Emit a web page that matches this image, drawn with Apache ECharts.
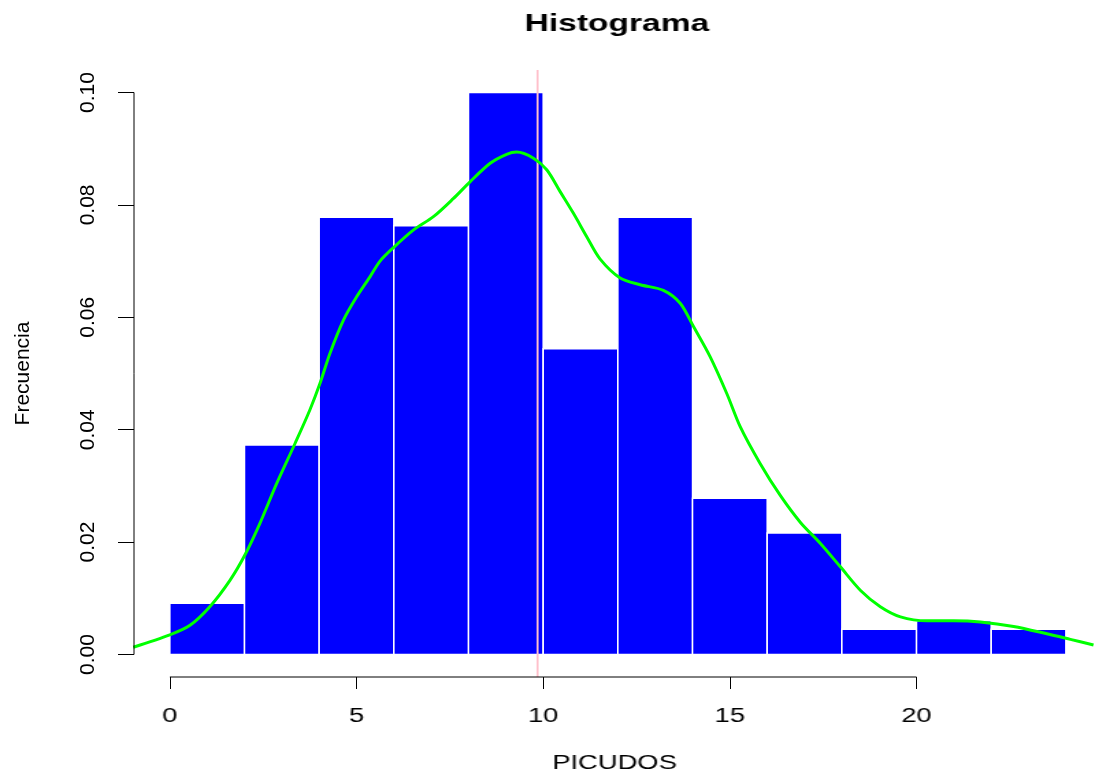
<!DOCTYPE html>
<html>
<head>
<meta charset="utf-8">
<script src="https://cdn.jsdelivr.net/npm/echarts@6/dist/echarts.min.js"></script>
<style>
html,body{margin:0;padding:0;background:#fff;}
#main{position:absolute;left:0;top:0;width:1095px;height:772px;}
#text{position:absolute;left:0;top:0;width:800px;height:772px;transform:scaleX(1.36875);transform-origin:0 0;pointer-events:none;}
</style>
</head>
<body>
<div id="main"></div>
<div id="text"></div>
<script>
// ---- data ----
const breaks = [0, 2, 4, 6, 8, 10, 12, 14, 16, 18, 20, 22, 24];
const density = [0.0091, 0.0373, 0.0778, 0.0763, 0.1000, 0.0544, 0.0778, 0.0278, 0.0216, 0.0045, 0.0060, 0.0045];
const curveX = [-0.98, 0.0, 0.54, 1.07, 1.61, 2.01, 2.41, 2.86, 3.35, 3.75, 4.02, 4.29, 4.65, 5.0, 5.36, 5.63, 5.99, 6.52, 7.06, 7.59, 8.04, 8.58, 9.02, 9.29, 9.74, 10.1, 10.45, 10.81, 11.17, 11.52, 12.06, 12.6, 13.22, 13.67, 14.03, 14.47, 14.92, 15.28, 15.81, 16.35, 16.89, 17.42, 17.96, 18.5, 19.03, 19.57, 20.28, 20.99, 21.71, 22.6, 23.49, 24.12, 24.74];
const curveY = [0.0013, 0.0035, 0.0052, 0.0085, 0.0132, 0.0177, 0.0233, 0.0304, 0.0375, 0.0435, 0.0482, 0.0536, 0.0595, 0.0636, 0.0672, 0.0700, 0.0724, 0.0755, 0.0779, 0.0811, 0.0841, 0.0874, 0.0890, 0.0894, 0.0883, 0.0862, 0.0824, 0.0785, 0.0743, 0.0704, 0.0670, 0.0658, 0.0648, 0.0625, 0.0583, 0.0530, 0.0464, 0.0405, 0.0340, 0.0283, 0.0235, 0.0198, 0.0156, 0.0114, 0.0085, 0.0067, 0.0060, 0.0060, 0.0058, 0.0050, 0.0037, 0.0027, 0.0017];
const xTicks = [0, 5, 10, 15, 20];
const yTicks = [0, 0.02, 0.04, 0.06, 0.08, 0.10];
const meanLine = [9.85];
const titleText = 'Histograma';
const xName = 'PICUDOS';
const yName = 'Frecuencia';

// ---- layout / style ----
const X_MIN = -0.96, X_MAX = 24.78, Y_MIN = -0.004, Y_MAX = 0.104;
const FONT = "'Liberation Sans', Arial, Helvetica, sans-serif";
const SX = 1095 / 800;
const GRID = {left: 134, right: 0, top: 70, bottom: 95};

const barData = density.map((d, i) => [breaks[i], breaks[i + 1], d]);
const curveData = curveX.map((x, i) => [x, curveY[i]]);

function renderBar(params, api) {
  const p0 = api.coord([api.value(0), api.value(2)]);
  const p1 = api.coord([api.value(1), 0]);
  return {
    type: 'rect',
    shape: {x: p0[0], y: p0[1], width: p1[0] - p0[0], height: p1[1] - p0[1]},
    style: {fill: '#0000FF', stroke: '#ffffff', lineWidth: 1.5}
  };
}

const main = echarts.init(document.getElementById('main'), null, {renderer: 'canvas'});
main.setOption({
  animation: false,
  backgroundColor: '#ffffff',
  grid: Object.assign({outerBoundsMode: 'none', containLabel: false}, GRID),
  xAxis: {
    type: 'value', min: X_MIN, max: X_MAX,
    axisLine: {show: false, onZero: false}, splitLine: {show: false},
    axisTick: {show: true, customValues: xTicks, length: 12, lineStyle: {color: '#000', width: 1}},
    axisLabel: {show: false}
  },
  yAxis: {
    type: 'value', min: Y_MIN, max: Y_MAX,
    axisLine: {show: false, onZero: false}, splitLine: {show: false},
    axisTick: {show: true, customValues: yTicks, length: 16, lineStyle: {color: '#000', width: 1}},
    axisLabel: {customValues: yTicks, rotate: 90, formatter: v => v.toFixed(2), fontSize: 21, color: '#000', fontFamily: FONT, margin: 35},
    name: yName, nameLocation: 'middle', nameGap: 100,
    nameTextStyle: {fontSize: 21, color: '#000', fontFamily: FONT}
  },
  series: [
    {type: 'custom', renderItem: renderBar, data: barData, encode: {x: [0, 1], y: 2}, z: 2, silent: true},
    {type: 'line', data: [[meanLine[0], Y_MIN], [meanLine[0], Y_MAX]], symbol: 'none', lineStyle: {color: '#FFC0CB', width: 2}, z: 3, silent: true},
    {type: 'line', data: curveData, smooth: 0.3, symbol: 'none', lineStyle: {color: '#00FF00', width: 3}, z: 4, silent: true},
    {type: 'line', data: [[xTicks[0], Y_MIN], [xTicks[xTicks.length - 1], Y_MIN]], symbol: 'none', clip: false, lineStyle: {color: '#000', width: 1}, z: 5, silent: true},
    {type: 'line', data: [[X_MIN, yTicks[0]], [X_MIN, yTicks[yTicks.length - 1]]], symbol: 'none', clip: false, lineStyle: {color: '#000', width: 1}, z: 5, silent: true}
  ]
});

// horizontally stretched text layer (title, x tick labels, x name)
const txt = echarts.init(document.getElementById('text'), null, {renderer: 'canvas'});
txt.setOption({
  animation: false,
  title: {
    text: titleText, left: 610 / SX, top: 7, textAlign: 'center',
    textStyle: {fontSize: 24.5, fontWeight: 'bold', color: '#000', fontFamily: FONT}
  },
  grid: {outerBoundsMode: 'none', containLabel: false, left: GRID.left / SX, right: 0, top: GRID.top, bottom: GRID.bottom},
  xAxis: {
    type: 'value', min: X_MIN, max: X_MAX,
    axisLine: {show: false, onZero: false}, axisTick: {show: false}, splitLine: {show: false},
    axisLabel: {customValues: xTicks, fontSize: 20, color: '#000', fontFamily: FONT, margin: 29},
    name: xName, nameLocation: 'middle', nameGap: 76,
    nameTextStyle: {fontSize: 20, color: '#000', fontFamily: FONT}
  },
  yAxis: {type: 'value', min: Y_MIN, max: Y_MAX, show: false, axisLine: {onZero: false}},
  series: [{type: 'line', data: [], silent: true}]
});
</script>
</body>
</html>
